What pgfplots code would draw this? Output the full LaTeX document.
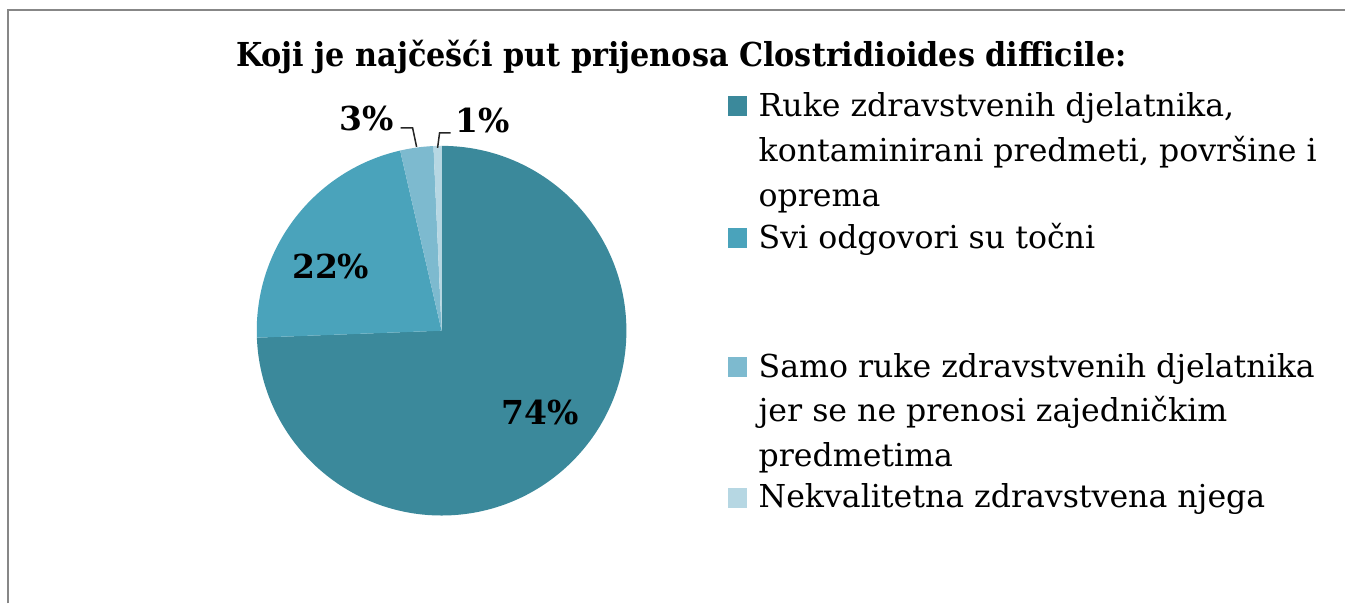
\documentclass[border=0pt]{standalone}
\usepackage{pgfplots}
\pgfplotsset{compat=1.18}
\usepackage{fontspec}
\setmainfont{DejaVu Serif}
\newfontfamily\titlefont{DejaVu Serif}[FakeStretch=0.918]
\definecolor{c1}{HTML}{3B899B}
\definecolor{c2}{HTML}{4AA3BB}
\definecolor{c3}{HTML}{7DBACF}
\definecolor{c4}{HTML}{B6D7E3}
\definecolor{frame}{HTML}{878787}
% shares (percent), clockwise from 12 o'clock
\def\va{74.4}\def\vb{22.0}\def\vc{2.9}\def\vd{0.7}
\begin{document}
\begin{tikzpicture}
\begin{axis}[x=0.5pt,y=0.5pt,xmin=0,xmax=1346,ymin=0,ymax=604,y dir=reverse,
  hide axis,clip=false,scale only axis]
\path[fill=white] (axis cs:0,0) rectangle (axis cs:1346,604);
\draw[frame,line width=1.3pt] (axis cs:8,604) -- (axis cs:8,10) -- (axis cs:1346,10);
% pie
\fill[c1] (axis cs:442,331) -- ++(90:92.5pt) arc[start angle=90, end angle={90-3.6*\va}, radius=92.5pt] -- cycle;
\fill[c2] (axis cs:442,331) -- ++({90-3.6*\va}:92.5pt) arc[start angle={90-3.6*\va}, end angle={90-3.6*(\va+\vb)}, radius=92.5pt] -- cycle;
\fill[c3] (axis cs:442,331) -- ++({90-3.6*(\va+\vb)}:92.5pt) arc[start angle={90-3.6*(\va+\vb)}, end angle={90-3.6*(\va+\vb+\vc)}, radius=92.5pt] -- cycle;
\fill[c4] (axis cs:442,331) -- ++({90-3.6*(\va+\vb+\vc)}:92.5pt) arc[start angle={90-3.6*(\va+\vb+\vc)}, end angle=-270, radius=92.5pt] -- cycle;
% labels
\tikzset{lab/.style={font=\fontsize{16.5}{18}\selectfont\bfseries,inner sep=0pt}}
\node[lab] at (axis cs:541,413) {74\%};
\node[lab] at (axis cs:331,267) {22\%};
\node[lab] at (axis cs:367,119) {3\%};
\node[lab] at (axis cs:483,121) {1\%};
\draw[black!85,line width=0.75pt] (axis cs:401,128) -- (axis cs:413,128) -- (axis cs:417,147);
\draw[black!85,line width=0.75pt] (axis cs:451,133) -- (axis cs:440,133) -- (axis cs:438,148);
% title
\node[font=\titlefont\fontsize{16.5}{18}\selectfont\bfseries,anchor=base,inner sep=0pt] at (axis cs:682,67) {Koji je najčešći put prijenosa Clostridioides difficile:};
% legend
\tikzset{leg/.style={font=\fontsize{15.8}{18}\selectfont,anchor=base west,inner sep=0pt}}
\fill[c1] (axis cs:729,96) rectangle (axis cs:748,116);
\node[leg] at (axis cs:759,117) {Ruke zdravstvenih djelatnika,};
\node[leg] at (axis cs:759,162) {kontaminirani predmeti, površine i};
\node[leg] at (axis cs:759,207) {oprema};
\fill[c2] (axis cs:729,228) rectangle (axis cs:748,248);
\node[leg] at (axis cs:759,249) {Svi odgovori su točni};
\fill[c3] (axis cs:729,357) rectangle (axis cs:748,377);
\node[leg] at (axis cs:759,378) {Samo ruke zdravstvenih djelatnika};
\node[leg] at (axis cs:759,422) {jer se ne prenosi zajedničkim};
\node[leg] at (axis cs:759,467) {predmetima};
\fill[c4] (axis cs:729,488) rectangle (axis cs:748,508);
\node[leg] at (axis cs:759,508) {Nekvalitetna zdravstvena njega};
\end{axis}
\end{tikzpicture}
\end{document}
